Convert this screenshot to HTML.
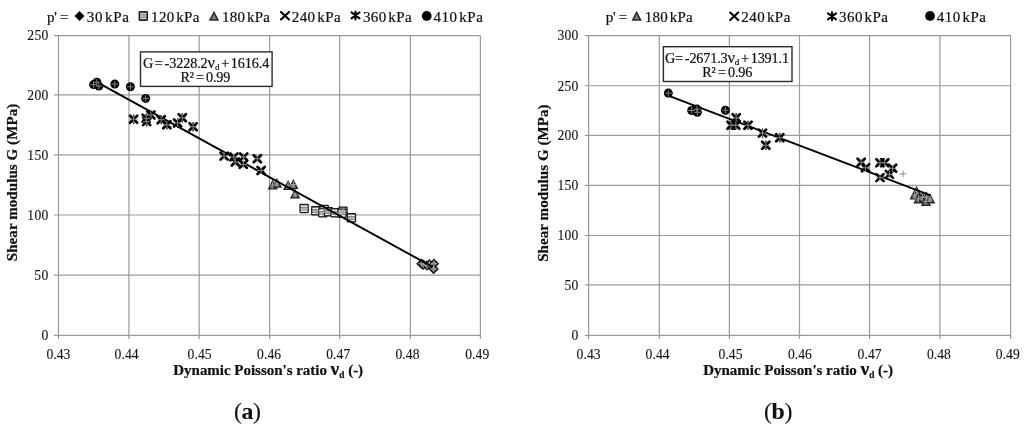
<!DOCTYPE html>
<html lang="en">
<head>
<meta charset="utf-8">
<title>Shear modulus G versus dynamic Poisson's ratio</title>
<style>
html,body{margin:0;padding:0;background:#fff;}
body{width:1024px;height:428px;overflow:hidden;position:relative;}
svg{display:block;position:absolute;left:0;top:0;}
text{font-family:"Liberation Serif",serif;fill:#111;stroke:#111;stroke-width:0.22px;}
.t{font-size:13.6px;}
.t text{stroke-width:0.1px;}
.eq{font-size:14.2px;}
.ax{font-size:15px;font-weight:bold;}
.lg{font-size:15px;}
.b{font-weight:bold;}
.cap{font-size:23.8px;letter-spacing:-0.35px;stroke-width:0.1px;}
</style>
</head>
<body>
<svg width="1024" height="428" viewBox="0 0 1024 428">
<rect width="1024" height="428" fill="#fff"/>

<g class="t">
<path d="M58.5 35.55V338.9M128.95 35.55V338.9M199.2 35.55V338.9M269.65 35.55V338.9M339.65 35.55V338.9M410.35 35.55V338.9M480.4 35.55V338.9M54.0 335.3H480.4M54.0 275.15H480.4M54.0 215.0H480.4M54.0 154.95H480.4M54.0 94.95H480.4M54.0 35.55H480.4" stroke="#9a9a9a" stroke-width="1.2" fill="none"/>
<text x="48.25" y="340.05" text-anchor="end">0</text>
<text x="48.25" y="279.9" text-anchor="end" textLength="13.9" lengthAdjust="spacing">50</text>
<text x="48.25" y="219.75" text-anchor="end" textLength="20.9" lengthAdjust="spacing">100</text>
<text x="48.25" y="159.7" text-anchor="end" textLength="20.9" lengthAdjust="spacing">150</text>
<text x="48.25" y="99.7" text-anchor="end" textLength="20.9" lengthAdjust="spacing">200</text>
<text x="48.25" y="40.3" text-anchor="end" textLength="20.9" lengthAdjust="spacing">250</text>
<text x="58.4" y="359.0" text-anchor="middle" textLength="24" lengthAdjust="spacing">0.43</text>
<text x="126.6" y="359.0" text-anchor="middle" textLength="24" lengthAdjust="spacing">0.44</text>
<text x="199.6" y="359.0" text-anchor="middle" textLength="24" lengthAdjust="spacing">0.45</text>
<text x="269.1" y="359.0" text-anchor="middle" textLength="24" lengthAdjust="spacing">0.46</text>
<text x="338.25" y="359.0" text-anchor="middle" textLength="24" lengthAdjust="spacing">0.47</text>
<text x="407.5" y="359.0" text-anchor="middle" textLength="24" lengthAdjust="spacing">0.48</text>
<text x="477.25" y="359.0" text-anchor="middle" textLength="24" lengthAdjust="spacing">0.49</text>
</g>
<g><path d="M421.4 259.6L425.5 263.7L421.4 267.8L417.3 263.7Z" fill="#7f7f7f" stroke="#141414" stroke-width="1.6" stroke-linejoin="miter"/><path d="M423.3 260.6L427.4 264.7L423.3 268.8L419.2 264.7Z" fill="#7f7f7f" stroke="#141414" stroke-width="1.6" stroke-linejoin="miter"/><path d="M427 261.5L431.1 265.6L427 269.7L422.9 265.6Z" fill="#7f7f7f" stroke="#141414" stroke-width="1.6" stroke-linejoin="miter"/><path d="M429.4 260.1L433.5 264.2L429.4 268.3L425.3 264.2Z" fill="#7f7f7f" stroke="#141414" stroke-width="1.6" stroke-linejoin="miter"/><path d="M434 259.6L438.1 263.7L434 267.8L429.9 263.7Z" fill="#7f7f7f" stroke="#141414" stroke-width="1.6" stroke-linejoin="miter"/><path d="M433.6 264.8L437.7 268.9L433.6 273.0L429.5 268.9Z" fill="#7f7f7f" stroke="#141414" stroke-width="1.6" stroke-linejoin="miter"/><path d="M418.0 263.7H424.8M421.4 260.3V267.1M419.9 264.7H426.7M423.3 261.3V268.1M423.6 265.6H430.4M427 262.2V269.0M426.0 264.2H432.8M429.4 260.8V267.6M430.6 263.7H437.4M434 260.3V267.1M430.2 268.9H437.0M433.6 265.5V272.3" stroke="#a4a4a4" stroke-width="0.9" fill="none"/></g>
<g><rect x="300.0" y="204.4" width="8.2" height="8.2" rx="0.5" fill="#858585" stroke="#1c1c1c" stroke-width="1.25"/><path d="M300.8 206.15H307.4M300.8 208.65H307.4M300.8 211.15H307.4" stroke="#ffffff" stroke-width="1.15" fill="none"/><rect x="311.7" y="206.7" width="8.2" height="8.2" rx="0.5" fill="#858585" stroke="#1c1c1c" stroke-width="1.25"/><path d="M312.5 208.45H319.1M312.5 210.95H319.1M312.5 213.45H319.1" stroke="#ffffff" stroke-width="1.15" fill="none"/><rect x="320.1" y="205.3" width="8.2" height="8.2" rx="0.5" fill="#858585" stroke="#1c1c1c" stroke-width="1.25"/><path d="M320.9 207.05H327.5M320.9 209.55H327.5M320.9 212.05H327.5" stroke="#ffffff" stroke-width="1.15" fill="none"/><rect x="318.7" y="208.6" width="8.2" height="8.2" rx="0.5" fill="#858585" stroke="#1c1c1c" stroke-width="1.25"/><path d="M319.5 210.35H326.1M319.5 212.85H326.1M319.5 215.35H326.1" stroke="#ffffff" stroke-width="1.15" fill="none"/><rect x="324.3" y="207.7" width="8.2" height="8.2" rx="0.5" fill="#858585" stroke="#1c1c1c" stroke-width="1.25"/><path d="M325.1 209.45H331.7M325.1 211.95H331.7M325.1 214.45H331.7" stroke="#ffffff" stroke-width="1.15" fill="none"/><rect x="330.9" y="208.6" width="8.2" height="8.2" rx="0.5" fill="#858585" stroke="#1c1c1c" stroke-width="1.25"/><path d="M331.7 210.35H338.3M331.7 212.85H338.3M331.7 215.35H338.3" stroke="#ffffff" stroke-width="1.15" fill="none"/><rect x="338.9" y="207.2" width="8.2" height="8.2" rx="0.5" fill="#858585" stroke="#1c1c1c" stroke-width="1.25"/><path d="M339.7 208.95H346.3M339.7 211.45H346.3M339.7 213.95H346.3" stroke="#ffffff" stroke-width="1.15" fill="none"/><rect x="337.9" y="209.1" width="8.2" height="8.2" rx="0.5" fill="#858585" stroke="#1c1c1c" stroke-width="1.25"/><path d="M338.7 210.85H345.3M338.7 213.35H345.3M338.7 215.85H345.3" stroke="#ffffff" stroke-width="1.15" fill="none"/><rect x="347.3" y="213.7" width="8.2" height="8.2" rx="0.5" fill="#858585" stroke="#1c1c1c" stroke-width="1.25"/><path d="M348.1 215.45H354.7M348.1 217.95H354.7M348.1 220.45H354.7" stroke="#ffffff" stroke-width="1.15" fill="none"/><path d="M300.7 208.3H307.5M304.1 204.9V211.7M312.4 210.6H319.2M315.8 207.2V214.0M320.8 209.2H327.6M324.2 205.8V212.6M319.4 212.5H326.2M322.8 209.1V215.9M325.0 211.6H331.8M328.4 208.2V215.0M331.6 212.5H338.4M335 209.1V215.9M339.6 211.1H346.4M343 207.7V214.5M338.6 213H345.4M342 209.6V216.4M348.0 217.6H354.8M351.4 214.2V221.0" stroke="#a4a4a4" stroke-width="0.9" fill="none"/></g>
<g><path d="M272.7 181.1L276.7 188.9L268.7 188.9Z" fill="#7f7f7f" stroke="#242424" stroke-width="1.4" stroke-linejoin="miter"/><path d="M276.9 179.2L280.9 187.0L272.9 187.0Z" fill="#7f7f7f" stroke="#242424" stroke-width="1.4" stroke-linejoin="miter"/><path d="M288.1 181.6L292.1 189.4L284.1 189.4Z" fill="#7f7f7f" stroke="#242424" stroke-width="1.4" stroke-linejoin="miter"/><path d="M293.3 180.6L297.3 188.4L289.3 188.4Z" fill="#7f7f7f" stroke="#242424" stroke-width="1.4" stroke-linejoin="miter"/><path d="M295.1 190.0L299.1 197.8L291.1 197.8Z" fill="#7f7f7f" stroke="#242424" stroke-width="1.4" stroke-linejoin="miter"/><path d="M269.3 185H276.1M272.7 181.6V188.4M273.5 183.1H280.3M276.9 179.7V186.5M284.7 185.5H291.5M288.1 182.1V188.9M289.9 184.5H296.7M293.3 181.1V187.9M291.7 193.9H298.5M295.1 190.5V197.3" stroke="#a4a4a4" stroke-width="0.9" fill="none"/></g>
<path d="M94.72 80.82L432.53 266.88" stroke="#000" stroke-width="1.9" fill="none"/>
<g><path d="M220.5 152.6L227.7 159.6M227.7 152.6L220.5 159.6" stroke="#000" stroke-width="2.7" stroke-linecap="round" fill="none"/><path d="M230.3 153.4L237.5 160.4M237.5 153.4L230.3 160.4" stroke="#000" stroke-width="2.7" stroke-linecap="round" fill="none"/><path d="M231.7 158.5L238.9 165.5M238.9 158.5L231.7 165.5" stroke="#000" stroke-width="2.7" stroke-linecap="round" fill="none"/><path d="M240.1 153.4L247.3 160.4M247.3 153.4L240.1 160.4" stroke="#000" stroke-width="2.7" stroke-linecap="round" fill="none"/><path d="M239.7 160.9L246.9 167.9M246.9 160.9L239.7 167.9" stroke="#000" stroke-width="2.7" stroke-linecap="round" fill="none"/><path d="M253.7 155.2L260.9 162.2M260.9 155.2L253.7 162.2" stroke="#000" stroke-width="2.7" stroke-linecap="round" fill="none"/><path d="M257.5 167.0L264.7 174.0M264.7 167.0L257.5 174.0" stroke="#000" stroke-width="2.7" stroke-linecap="round" fill="none"/><path d="M220.3 156.1H227.9M224.1 152.3V159.9M230.1 156.9H237.7M233.9 153.1V160.7M231.5 162H239.1M235.3 158.2V165.8M239.9 156.9H247.5M243.7 153.1V160.7M239.5 164.4H247.1M243.3 160.6V168.2M253.5 158.7H261.1M257.3 154.9V162.5M257.3 170.5H264.9M261.1 166.7V174.3" stroke="#8e8e8e" stroke-width="0.9" fill="none"/></g>
<g><path d="M133.6 115.1L133.6 123.3" stroke="#000" stroke-width="1.4" stroke-linecap="round" fill="none"/><path d="M130.0 115.7L137.2 122.7M137.2 115.7L130.0 122.7" stroke="#000" stroke-width="2.7" stroke-linecap="round" fill="none"/><path d="M146.2 114.2L146.2 122.4" stroke="#000" stroke-width="1.4" stroke-linecap="round" fill="none"/><path d="M142.6 114.8L149.8 121.8M149.8 114.8L142.6 121.8" stroke="#000" stroke-width="2.7" stroke-linecap="round" fill="none"/><path d="M146.7 117.5L146.7 125.7" stroke="#000" stroke-width="1.4" stroke-linecap="round" fill="none"/><path d="M143.1 118.1L150.3 125.1M150.3 118.1L143.1 125.1" stroke="#000" stroke-width="2.7" stroke-linecap="round" fill="none"/><path d="M150.9 110.9L150.9 119.1" stroke="#000" stroke-width="1.4" stroke-linecap="round" fill="none"/><path d="M147.3 111.5L154.5 118.5M154.5 111.5L147.3 118.5" stroke="#000" stroke-width="2.7" stroke-linecap="round" fill="none"/><path d="M161.2 115.6L161.2 123.8" stroke="#000" stroke-width="1.4" stroke-linecap="round" fill="none"/><path d="M157.6 116.2L164.8 123.2M164.8 116.2L157.6 123.2" stroke="#000" stroke-width="2.7" stroke-linecap="round" fill="none"/><path d="M166.9 120.7L166.9 128.9" stroke="#000" stroke-width="1.4" stroke-linecap="round" fill="none"/><path d="M163.3 121.3L170.5 128.3M170.5 121.3L163.3 128.3" stroke="#000" stroke-width="2.7" stroke-linecap="round" fill="none"/><path d="M177.6 118.9L177.6 127.1" stroke="#000" stroke-width="1.4" stroke-linecap="round" fill="none"/><path d="M174.0 119.5L181.2 126.5M181.2 119.5L174.0 126.5" stroke="#000" stroke-width="2.7" stroke-linecap="round" fill="none"/><path d="M182.3 113.7L182.3 121.9" stroke="#000" stroke-width="1.4" stroke-linecap="round" fill="none"/><path d="M178.7 114.3L185.9 121.3M185.9 114.3L178.7 121.3" stroke="#000" stroke-width="2.7" stroke-linecap="round" fill="none"/><path d="M193.1 122.6L193.1 130.8" stroke="#000" stroke-width="1.4" stroke-linecap="round" fill="none"/><path d="M189.5 123.2L196.7 130.2M196.7 123.2L189.5 130.2" stroke="#000" stroke-width="2.7" stroke-linecap="round" fill="none"/><path d="M129.8 119.2H137.4M133.6 115.4V123.0M142.4 118.3H150.0M146.2 114.5V122.1M142.9 121.6H150.5M146.7 117.8V125.4M147.1 115H154.7M150.9 111.2V118.8M157.4 119.7H165.0M161.2 115.9V123.5M163.1 124.8H170.7M166.9 121.0V128.6M173.8 123H181.4M177.6 119.2V126.8M178.5 117.8H186.1M182.3 114.0V121.6M189.3 126.7H196.9M193.1 122.9V130.5" stroke="#8e8e8e" stroke-width="0.9" fill="none"/></g>
<g><circle cx="93.6" cy="84.6" r="4.5" fill="#000"/><circle cx="96.8" cy="82.3" r="4.5" fill="#000"/><circle cx="98.9" cy="86.1" r="4.5" fill="#000"/><circle cx="114.8" cy="84.1" r="4.5" fill="#000"/><circle cx="130.4" cy="86.8" r="4.5" fill="#000"/><circle cx="145.6" cy="98.4" r="4.5" fill="#000"/><path d="M90.2 84.6H97.0M93.6 81.2V88.0M93.4 82.3H100.2M96.8 78.9V85.7M95.5 86.1H102.3M98.9 82.7V89.5M111.4 84.1H118.2M114.8 80.7V87.5M127.0 86.8H133.8M130.4 83.4V90.2M142.2 98.4H149.0M145.6 95.0V101.8" stroke="#8e8e8e" stroke-width="0.9" fill="none"/></g>
<rect x="140.5" y="51.9" width="131.6" height="34.5" fill="#fff" stroke="#2a2a2a" stroke-width="1.4"/>
<text class="eq" x="206.1" y="67.6" text-anchor="middle" word-spacing="-1.6" textLength="126.4" lengthAdjust="spacing">G = -3228.2<tspan font-size="16.5">ν</tspan><tspan font-size="9" dy="2.5">d</tspan><tspan dy="-2.5"> + 1616.4</tspan></text>
<text class="eq" x="205.4" y="82.3" text-anchor="middle" word-spacing="-1.2" textLength="50" lengthAdjust="spacing">R² = 0.99</text>
<text class="lg" x="47" y="21.6" textLength="21.4" lengthAdjust="spacing">p' =</text>
<path d="M79.5 11.100000000000001L84.5 16.1L79.5 21.1L74.5 16.1Z" fill="#000"/>
<text class="lg" x="86.8" y="21.6" letter-spacing="0.5" word-spacing="-2.4" textLength="42.6" lengthAdjust="spacing">30 kPa</text>
<rect x="139.25" y="11.75" width="8" height="8.4" rx="0.4" fill="#7a7a7a" stroke="#222" stroke-width="1.5"/><path d="M140.05 13.4H146.45M140.05 15.1H146.45M140.05 16.8H146.45M140.05 18.5H146.45" stroke="#dcdcdc" stroke-width="0.8" fill="none"/>
<text class="lg" x="151.1" y="21.6" letter-spacing="0.5" word-spacing="-2.4" textLength="48.8" lengthAdjust="spacing">120 kPa</text>
<path d="M213.95 12.35L217.85 20.05L210.05 20.05Z" fill="#7f7f7f" stroke="#2a2a2a" stroke-width="1.5" stroke-linejoin="miter"/>
<text class="lg" x="222.1" y="21.6" letter-spacing="0.5" word-spacing="-2.4" textLength="48.4" lengthAdjust="spacing">180 kPa</text>
<path d="M281.0 11.9L289.0 19.5M289.0 11.9L281.0 19.5" stroke="#000" stroke-width="2.1" stroke-linecap="round" fill="none"/>
<text class="lg" x="291.8" y="21.6" letter-spacing="0.5" word-spacing="-2.4" textLength="49.3" lengthAdjust="spacing">240 kPa</text>
<path d="M351.5 12.45L359.5 18.45M359.5 12.45L351.5 18.45M355.5 11.45V19.45" stroke="#000" stroke-width="2.1" stroke-linecap="round" fill="none"/>
<text class="lg" x="363.0" y="21.6" letter-spacing="0.5" word-spacing="-2.4" textLength="49.1" lengthAdjust="spacing">360 kPa</text>
<circle cx="426.7" cy="15.95" r="4.9" fill="#000"/>
<text class="lg" x="433.5" y="21.6" letter-spacing="0.5" word-spacing="-2.4" textLength="49.8" lengthAdjust="spacing">410 kPa</text>
<text class="ax" x="173.3" y="375.4" textLength="189.8" lengthAdjust="spacing">Dynamic Poisson's ratio <tspan font-size="19.5">ν</tspan><tspan font-size="9.3" dy="2.6">d</tspan><tspan dy="-2.6"> (-)</tspan></text>
<text class="ax" transform="translate(17 261.2) rotate(-90)" textLength="157.4" lengthAdjust="spacing">Shear modulus G (MPa)</text>
<text class="cap" x="247.3" y="419.2" text-anchor="middle">(<tspan class="b">a</tspan>)</text>
<g class="t">
<path d="M588.6 35.55V338.9M659.3 35.55V338.9M729.4 35.55V338.9M799.5 35.55V338.9M869.55 35.55V338.9M939.9 35.55V338.9M1010.6 35.55V338.9M584.8 335.3H1010.6M584.8 284.95H1010.6M584.8 235.5H1010.6M584.8 185.35H1010.6M584.8 135.3H1010.6M584.8 85.75H1010.6M584.8 35.55H1010.6" stroke="#9a9a9a" stroke-width="1.2" fill="none"/>
<text x="578.35" y="340.05" text-anchor="end">0</text>
<text x="578.35" y="289.7" text-anchor="end" textLength="13.9" lengthAdjust="spacing">50</text>
<text x="578.35" y="240.25" text-anchor="end" textLength="20.9" lengthAdjust="spacing">100</text>
<text x="578.35" y="190.1" text-anchor="end" textLength="20.9" lengthAdjust="spacing">150</text>
<text x="578.35" y="140.05" text-anchor="end" textLength="20.9" lengthAdjust="spacing">200</text>
<text x="578.35" y="90.5" text-anchor="end" textLength="20.9" lengthAdjust="spacing">250</text>
<text x="578.35" y="40.3" text-anchor="end" textLength="20.9" lengthAdjust="spacing">300</text>
<text x="588.6" y="359.0" text-anchor="middle" textLength="24" lengthAdjust="spacing">0.43</text>
<text x="657.6" y="359.0" text-anchor="middle" textLength="24" lengthAdjust="spacing">0.44</text>
<text x="730.5" y="359.0" text-anchor="middle" textLength="24" lengthAdjust="spacing">0.45</text>
<text x="799.9" y="359.0" text-anchor="middle" textLength="24" lengthAdjust="spacing">0.46</text>
<text x="869.6" y="359.0" text-anchor="middle" textLength="24" lengthAdjust="spacing">0.47</text>
<text x="938.9" y="359.0" text-anchor="middle" textLength="24" lengthAdjust="spacing">0.48</text>
<text x="1007.75" y="359.0" text-anchor="middle" textLength="24" lengthAdjust="spacing">0.49</text>
</g>
<g><path d="M916.6 187.3L920.6 195.1L912.6 195.1Z" fill="#7f7f7f" stroke="#242424" stroke-width="1.4" stroke-linejoin="miter"/><path d="M914.7 191.1L918.7 198.9L910.7 198.9Z" fill="#7f7f7f" stroke="#242424" stroke-width="1.4" stroke-linejoin="miter"/><path d="M918.5 194.9L922.5 202.7L914.5 202.7Z" fill="#7f7f7f" stroke="#242424" stroke-width="1.4" stroke-linejoin="miter"/><path d="M922.5 193.4L926.5 201.2L918.5 201.2Z" fill="#7f7f7f" stroke="#242424" stroke-width="1.4" stroke-linejoin="miter"/><path d="M926.5 192.9L930.5 200.7L922.5 200.7Z" fill="#7f7f7f" stroke="#242424" stroke-width="1.4" stroke-linejoin="miter"/><path d="M926 197.4L930.0 205.2L922.0 205.2Z" fill="#7f7f7f" stroke="#242424" stroke-width="1.4" stroke-linejoin="miter"/><path d="M930.1 194.9L934.1 202.7L926.1 202.7Z" fill="#7f7f7f" stroke="#242424" stroke-width="1.4" stroke-linejoin="miter"/><path d="M913.2 191.2H920.0M916.6 187.8V194.6M911.3 195.0H918.1M914.7 191.6V198.4M915.1 198.8H921.9M918.5 195.4V202.2M919.1 197.3H925.9M922.5 193.9V200.7M923.1 196.8H929.9M926.5 193.4V200.2M922.6 201.3H929.4M926 197.9V204.7M926.7 198.8H933.5M930.1 195.4V202.2" stroke="#a4a4a4" stroke-width="0.9" fill="none"/></g>
<g><path d="M899.5 173.9H906.5M903 170.4V177.4" stroke="#858585" stroke-width="0.9" fill="none"/></g>
<path d="M668.3 95.65L930.6 195.3" stroke="#000" stroke-width="1.9" fill="none"/>
<g><path d="M857.6 158.7L864.8 165.7M864.8 158.7L857.6 165.7" stroke="#000" stroke-width="2.7" stroke-linecap="round" fill="none"/><path d="M861.9 164.3L869.1 171.3M869.1 164.3L861.9 171.3" stroke="#000" stroke-width="2.7" stroke-linecap="round" fill="none"/><path d="M876.4 159.2L883.6 166.2M883.6 159.2L876.4 166.2" stroke="#000" stroke-width="2.7" stroke-linecap="round" fill="none"/><path d="M881.1 159.2L888.3 166.2M888.3 159.2L881.1 166.2" stroke="#000" stroke-width="2.7" stroke-linecap="round" fill="none"/><path d="M889.0 164.8L896.2 171.8M896.2 164.8L889.0 171.8" stroke="#000" stroke-width="2.7" stroke-linecap="round" fill="none"/><path d="M885.8 170.9L893.0 177.9M893.0 170.9L885.8 177.9" stroke="#000" stroke-width="2.7" stroke-linecap="round" fill="none"/><path d="M876.4 174.1L883.6 181.1M883.6 174.1L876.4 181.1" stroke="#000" stroke-width="2.7" stroke-linecap="round" fill="none"/><path d="M857.4 162.2H865.0M861.2 158.4V166.0M861.7 167.8H869.3M865.5 164.0V171.6M876.2 162.7H883.8M880 158.9V166.5M880.9 162.7H888.5M884.7 158.9V166.5M888.8 168.3H896.4M892.6 164.5V172.1M885.6 174.4H893.2M889.4 170.6V178.2M876.2 177.6H883.8M880 173.8V181.4" stroke="#8e8e8e" stroke-width="0.9" fill="none"/></g>
<g><path d="M736.2 113.7L736.2 121.9" stroke="#000" stroke-width="1.4" stroke-linecap="round" fill="none"/><path d="M732.6 114.3L739.8 121.3M739.8 114.3L732.6 121.3" stroke="#000" stroke-width="2.7" stroke-linecap="round" fill="none"/><path d="M731.1 121.1L731.1 129.3" stroke="#000" stroke-width="1.4" stroke-linecap="round" fill="none"/><path d="M727.5 121.7L734.7 128.7M734.7 121.7L727.5 128.7" stroke="#000" stroke-width="2.7" stroke-linecap="round" fill="none"/><path d="M735.8 121.1L735.8 129.3" stroke="#000" stroke-width="1.4" stroke-linecap="round" fill="none"/><path d="M732.2 121.7L739.4 128.7M739.4 121.7L732.2 128.7" stroke="#000" stroke-width="2.7" stroke-linecap="round" fill="none"/><path d="M748 121.1L748 129.3" stroke="#000" stroke-width="1.4" stroke-linecap="round" fill="none"/><path d="M744.4 121.7L751.6 128.7M751.6 121.7L744.4 128.7" stroke="#000" stroke-width="2.7" stroke-linecap="round" fill="none"/><path d="M762.5 129.0L762.5 137.2" stroke="#000" stroke-width="1.4" stroke-linecap="round" fill="none"/><path d="M758.9 129.6L766.1 136.6M766.1 129.6L758.9 136.6" stroke="#000" stroke-width="2.7" stroke-linecap="round" fill="none"/><path d="M779.8 133.7L779.8 141.9" stroke="#000" stroke-width="1.4" stroke-linecap="round" fill="none"/><path d="M776.2 134.3L783.4 141.3M783.4 134.3L776.2 141.3" stroke="#000" stroke-width="2.7" stroke-linecap="round" fill="none"/><path d="M765.8 141.2L765.8 149.4" stroke="#000" stroke-width="1.4" stroke-linecap="round" fill="none"/><path d="M762.2 141.8L769.4 148.8M769.4 141.8L762.2 148.8" stroke="#000" stroke-width="2.7" stroke-linecap="round" fill="none"/><path d="M732.4 117.8H740.0M736.2 114.0V121.6M727.3 125.2H734.9M731.1 121.4V129.0M732.0 125.2H739.6M735.8 121.4V129.0M744.2 125.2H751.8M748 121.4V129.0M758.7 133.1H766.3M762.5 129.3V136.9M776.0 137.8H783.6M779.8 134.0V141.6M762.0 145.3H769.6M765.8 141.5V149.1" stroke="#8e8e8e" stroke-width="0.9" fill="none"/></g>
<g><circle cx="668.3" cy="93.1" r="4.5" fill="#000"/><circle cx="691.7" cy="110.5" r="4.5" fill="#000"/><circle cx="696.9" cy="109.1" r="4.5" fill="#000"/><circle cx="697.3" cy="112.3" r="4.5" fill="#000"/><circle cx="725.4" cy="110.2" r="4.5" fill="#000"/><path d="M664.9 93.1H671.7M668.3 89.7V96.5M688.3 110.5H695.1M691.7 107.1V113.9M693.5 109.1H700.3M696.9 105.7V112.5M693.9 112.3H700.7M697.3 108.9V115.7M722.0 110.2H728.8M725.4 106.8V113.6" stroke="#8e8e8e" stroke-width="0.9" fill="none"/></g>
<rect x="663.4" y="46.7" width="128.6" height="34.8" fill="#fff" stroke="#2a2a2a" stroke-width="1.4"/>
<text class="eq" x="727.0" y="62.7" text-anchor="middle" word-spacing="-1.6" textLength="124" lengthAdjust="spacing">G= -2671.3<tspan font-size="16.5">ν</tspan><tspan font-size="9" dy="2.5">d</tspan><tspan dy="-2.5"> + 1391.1</tspan></text>
<text class="eq" x="727.3" y="77.4" text-anchor="middle" word-spacing="-1.2" textLength="50" lengthAdjust="spacing">R² = 0.96</text>
<text class="lg" x="605.8" y="21.6" textLength="21.4" lengthAdjust="spacing">p' =</text>
<path d="M636.65 12.35L640.55 20.05L632.75 20.05Z" fill="#7f7f7f" stroke="#2a2a2a" stroke-width="1.5" stroke-linejoin="miter"/>
<text class="lg" x="644.8" y="21.6" letter-spacing="0.5" word-spacing="-2.4" textLength="48.4" lengthAdjust="spacing">180 kPa</text>
<path d="M730.2 12.5L738.2 20.1M738.2 12.5L730.2 20.1" stroke="#000" stroke-width="2.1" stroke-linecap="round" fill="none"/>
<text class="lg" x="741.3" y="21.6" letter-spacing="0.5" word-spacing="-2.4" textLength="49.5" lengthAdjust="spacing">240 kPa</text>
<path d="M828.0 13.3L836.0 19.3M836.0 13.3L828.0 19.3M832.0 12.3V20.3" stroke="#000" stroke-width="2.1" stroke-linecap="round" fill="none"/>
<text class="lg" x="839.1" y="21.6" letter-spacing="0.5" word-spacing="-2.4" textLength="49.3" lengthAdjust="spacing">360 kPa</text>
<circle cx="930.05" cy="15.95" r="4.9" fill="#000"/>
<text class="lg" x="936.7" y="21.6" letter-spacing="0.5" word-spacing="-2.4" textLength="49.7" lengthAdjust="spacing">410 kPa</text>
<text class="ax" x="703.2" y="375.4" textLength="189.8" lengthAdjust="spacing">Dynamic Poisson's ratio <tspan font-size="19.5">ν</tspan><tspan font-size="9.3" dy="2.6">d</tspan><tspan dy="-2.6"> (-)</tspan></text>
<text class="ax" transform="translate(548 261.8) rotate(-90)" textLength="157.4" lengthAdjust="spacing">Shear modulus G (MPa)</text>
<text class="cap" x="778" y="419.2" text-anchor="middle">(<tspan class="b">b</tspan>)</text>
</svg>
</body>
</html>
